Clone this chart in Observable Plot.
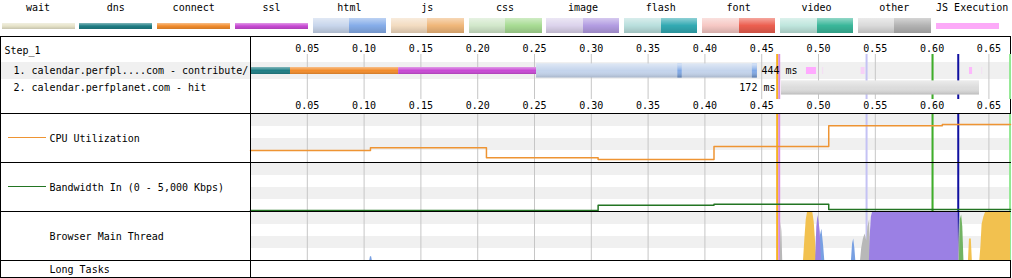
<!DOCTYPE html>
<html>
<head>
<meta charset="utf-8">
<script src="https://cdn.jsdelivr.net/npm/d3@7"></script>
<script src="https://cdn.jsdelivr.net/npm/@observablehq/plot@0.6"></script>
<style>
html,body{margin:0;padding:0;background:#fff;}
body{width:1012px;height:278px;position:relative;overflow:hidden;font-family:"DejaVu Sans Mono",monospace;font-size:10px;color:#000;}
#legend{position:absolute;left:0;top:0;width:1012px;height:35px;}
.lg-item{position:absolute;top:0;height:35px;}
.lg-label{position:absolute;left:-10px;right:-10px;top:2px;line-height:11px;text-align:center;white-space:nowrap;}
.lg-sw{position:absolute;left:0;display:flex;}
.lg-sw div{flex:1 1 0;}
#chart{position:absolute;left:0;top:36px;width:1009px;border-left:1px solid #000;border-right:1px solid #000;border-bottom:1px solid #000;}
.panel{border-top:1px solid #000;position:relative;}
.panel svg{display:block;}
.sample{position:absolute;left:7px;width:38px;height:1px;}
</style>
</head>
<body>
<div id="legend"></div>
<div id="chart"></div>
<script>
// ---------------- data ----------------
const legendNames = ["wait","dns","connect","ssl","html","js","css","image","flash","font","video","other","JS Execution"];
const tickValues = [0.05,0.10,0.15,0.20,0.25,0.30,0.35,0.40,0.45,0.50,0.55,0.60,0.65];
const stepName = "Step_1";
const requestLabels = ["1. calendar.perfpl....com - contribute/", "2. calendar.perfplanet.com - hit"];
const requestTimes = ["444 ms", "172 ms"];
// waterfall segments (seconds)
const segRow   = [1, 1, 1, 1, 1, 1, 2];
const segType  = ["dns", "connect", "ssl", "html-ttfb", "html", "html", "other-ttfb"];
const segStart = [0, 0.0352, 0.1304, 0.2518, 0.3762, 0.4418, 0.4674];
const segEnd   = [0.0352, 0.1304, 0.2518, 0.4462, 0.3800, 0.4462, 0.6417];
// JS execution marks on request 1
const jsStart = [0.4894, 0.5035, 0.5375, 0.6329, 0.6435];
const jsEnd   = [0.4982, 0.5045, 0.5410, 0.6356, 0.6445];
const jsShare = [1, 0.25, 0.45, 0.8, 0.2];
// page event lines
const eventNames = ["domInteractive", "domContentLoaded", "onLoad", "startRender", "docComplete", "fullyLoaded"];
const eventTimes = [0.4636, 0.4654, 0.5423, 0.6004, 0.6230, 0.6686];
// CPU / bandwidth samples
const sampleTimes = [0, 0.1056, 0.2077, 0.3060, 0.4080, 0.5090, 0.6090];
const cpuPct      = [25, 30.6, 9.8, 6.3, 33.3, 76.5, 79];
const bwKbps      = [100, 100, 100, 650, 760, 210, 210];
// browser main thread activity [time, percent]
const mtOther = [[0.4663,0],[0.4670,80],[0.4678,60],[0.4685,0],
  [0.5370,0],[0.5380,25],[0.5395,45],[0.5410,55],[0.5425,40],[0.5435,70],[0.5450,85],[0.5460,0],
  [0.6232,0],[0.6238,95],[0.6244,0]];
const mtLoading = [[0.1050,0],[0.1056,8],[0.1066,8],[0.1072,0],
  [0.5005,0],[0.5015,50],[0.5030,65],[0.5045,30],[0.5055,0],
  [0.5290,0],[0.5300,35],[0.5310,45],[0.5320,25],[0.5328,0]];
const mtScripting = [[0.4868,0],[0.4880,45],[0.4892,85],[0.4903,100],[0.4950,100],[0.4962,80],[0.4974,40],[0.4985,0],
  [0.6320,0],[0.6329,45],[0.6345,45],[0.6354,0],
  [0.6420,0],[0.6430,30],[0.6440,75],[0.6455,90],[0.6470,100],[0.6690,100]];
const mtLayout = [[0.4975,0],[0.4985,70],[0.4995,94],[0.5005,80],[0.5015,60],[0.5025,0],
  [0.5448,0],[0.5456,55],[0.5465,90],[0.5475,100],[0.6228,100],[0.6235,0]];
const mtPaint = [[0.6240,0],[0.6248,85],[0.6260,95],[0.6270,70],[0.6280,0]];
const panelLabels = ["CPU Utilization", "Bandwidth In (0 - 5,000 Kbps)", "Browser Main Thread", "Long Tasks"];

// ---------------- styles ----------------
const typeColors = {
  wait:["#e6e3c9"], dns:["#1f7d84"], connect:["#f28c2c"], ssl:["#c84ad4"],
  html:["#c8d6ec","#86ade9"], js:["#f3dcc1","#f0b77a"], css:["#d2e8cb","#a8dc94"],
  image:["#dcd3ec","#b39de2"], flash:["#b9dfdd","#33aab3"], font:["#f6c8c4","#ec5f50"],
  video:["#bfe6dd","#3ab79a"], other:["#dadada","#b3b3b3"], "JS Execution":["#fcaaf8"]
};
const segFill = {dns:"#1f7d84", connect:"#f28c2c", ssl:"#c84ad4", "html-ttfb":"#c4d4ec", html:"#7fa8e6", "other-ttfb":"#dcdcdc"};
const eventColor = {domInteractive:"#f7b21e", domContentLoaded:"#d98add", onLoad:"#c4c2f4", startRender:"#3fae2a", docComplete:"#1010a0", fullyLoaded:"#92e892"};
const mtColor = {other:"#b8b8b8", loading:"#78a0e2", scripting:"#f2c14f", layout:"#9b80e4", paint:"#72b363"};
const shadeCSS = "linear-gradient(rgba(255,255,255,.45), rgba(255,255,255,0) 50%, rgba(0,0,0,.14))";

// ---------------- legend ----------------
const legend = document.getElementById("legend");
legendNames.forEach((name, i) => {
  const item = document.createElement("div");
  item.className = "lg-item";
  item.style.left = (1.5 + i * 77.85) + "px";
  item.style.width = "73px";
  const lab = document.createElement("div");
  lab.className = "lg-label";
  lab.textContent = name;
  item.appendChild(lab);
  const cols = typeColors[name];
  const sw = document.createElement("div");
  sw.className = "lg-sw";
  if (cols.length === 1) {
    sw.style.top = "23px"; sw.style.height = "6px";
    sw.style.width = (name === "JS Execution" ? 63 : 73) + "px";
  } else {
    sw.style.top = "18px"; sw.style.height = "15px"; sw.style.width = "73px";
  }
  cols.forEach(c => {
    const p = document.createElement("div");
    p.style.backgroundColor = c;
    if (name !== "JS Execution") p.style.backgroundImage = shadeCSS;
    sw.appendChild(p);
  });
  item.appendChild(sw);
  legend.appendChild(item);
});

// ---------------- chart ----------------
const W = 1009, ML = 249, XD = [0, 0.669];
const style = {fontFamily: '"DejaVu Sans Mono", monospace', fontSize: "10px", background: "transparent", color: "#000", overflow: "visible"};
const fmt = d3.format(".2f");
const events = eventNames.map((name, i) => ({name, t: eventTimes[i], color: eventColor[name]}));
const chart = document.getElementById("chart");

function addPanel(svg, sampleColor, sampleTop) {
  const div = document.createElement("div");
  div.className = "panel";
  div.appendChild(svg);
  if (sampleColor) {
    const s = document.createElement("div");
    s.className = "sample";
    s.style.top = sampleTop + "px";
    s.style.background = sampleColor;
    div.appendChild(s);
  }
  chart.appendChild(div);
  return svg;
}

// Waterfall
const reqs = requestLabels.map((label, i) => ({row: String(i + 1), label}));
const segs = segRow.map((r, i) => ({row: String(r), type: segType[i], t0: segStart[i], t1: segEnd[i]}));
const thinSegs = segs.filter(s => ["dns", "connect", "ssl"].includes(s.type));
const fullSegs = segs.filter(s => !["dns", "connect", "ssl"].includes(s.type));
const jsMarks = jsStart.map((t, i) => ({row: "1", t0: t, t1: jsEnd[i], share: jsShare[i]}));
const durs = reqs.map((r, i) => {
  const rs = segs.filter(s => s.row === r.row);
  const t0 = d3.min(rs, s => s.t0), t1 = d3.max(rs, s => s.t1);
  const after = t1 + 0.04 < XD[1];
  return {row: r.row, text: requestTimes[i], t: after ? t1 : t0, after};
});

const wf = Plot.plot({
  width: W, height: 76, marginLeft: ML, marginRight: 0, marginTop: 25, marginBottom: 17,
  style,
  x: {domain: XD},
  y: {type: "band", domain: reqs.map(d => d.row), padding: 0, axis: null},
  color: {type: "identity"},
  marks: [
    Plot.barX(reqs.filter((d, i) => i % 2 === 0), {y: "row", x1: () => XD[0], x2: () => XD[1], fill: "#f0f0f0", insetLeft: -ML}),
    Plot.ruleX(tickValues, {stroke: "#c6c6c6", insetTop: -8, insetBottom: -3}),
    Plot.ruleX(events, {x: "t", stroke: "color", strokeWidth: 2, insetTop: -8, insetBottom: -3}),
    Plot.barX(thinSegs, {y: "row", x1: "t0", x2: "t1", fill: d => segFill[d.type], insetTop: 5, insetBottom: 5}),
    Plot.barX(thinSegs, {y: "row", x1: "t0", x2: "t1", fill: "url(#wpt-shade)", insetTop: 5, insetBottom: 5}),
    Plot.barX(fullSegs, {y: "row", x1: "t0", x2: "t1", fill: d => segFill[d.type], insetTop: 1.5, insetBottom: 1.5}),
    Plot.barX(fullSegs, {y: "row", x1: "t0", x2: "t1", fill: "url(#wpt-shade)", insetTop: 1.5, insetBottom: 1.5}),
    Plot.barX(jsMarks, {y: "row", x1: "t0", x2: "t1", fill: "#ffaaff", fillOpacity: "share", insetTop: 5, insetBottom: 5}),
    Plot.text(durs.filter(d => d.after), {x: "t", y: "row", text: "text", textAnchor: "start", dx: 4}),
    Plot.text(durs.filter(d => !d.after), {x: "t", y: "row", text: "text", textAnchor: "end", dx: -6}),
    Plot.text(reqs, {y: "row", text: "label", frameAnchor: "left", textAnchor: "start", dx: -237}),
    Plot.text([stepName], {text: d => d, frameAnchor: "top-left", textAnchor: "start", dx: -246, dy: -15.5}),
    Plot.axisX(tickValues, {anchor: "top", tickSize: 0, tickPadding: 10.5, tickFormat: fmt, label: null}),
    Plot.axisX(tickValues, {anchor: "bottom", tickSize: 0, tickPadding: 5.5, tickFormat: fmt, label: null}),
    Plot.ruleX([0], {stroke: "#000", insetTop: -25, insetBottom: -17})
  ]
});
const defs = document.createElementNS("http://www.w3.org/2000/svg", "defs");
defs.innerHTML = '<linearGradient id="wpt-shade" x1="0" y1="0" x2="0" y2="1"><stop offset="0" stop-color="#fff" stop-opacity="0.45"/><stop offset="0.5" stop-color="#fff" stop-opacity="0"/><stop offset="1" stop-color="#000" stop-opacity="0.15"/></linearGradient>';
wf.insertBefore(defs, wf.firstChild);
addPanel(wf);

function bandRows(domain) {
  const q = (domain[1] - domain[0]) / 4;
  return [{y1: domain[0] + 3 * q, y2: domain[1]}, {y1: domain[0] + q, y2: domain[0] + 2 * q}];
}
function panelPlot(label, yDomain, dataMarks, h = 48, withGrid = true) {
  return Plot.plot({
    width: W, height: h, marginLeft: ML, marginRight: 0, marginTop: 0, marginBottom: 0,
    style,
    x: {domain: XD, axis: null},
    y: {domain: yDomain, axis: null},
    color: {type: "identity"},
    marks: [
      withGrid ? Plot.rect(bandRows(yDomain), {y1: "y1", y2: "y2", fill: "#f0f0f0"}) : null,
      withGrid ? Plot.ruleX(tickValues, {stroke: "#c6c6c6"}) : null,
      withGrid ? Plot.ruleX(events, {x: "t", stroke: "color", strokeWidth: 2}) : null,
      ...dataMarks,
      Plot.ruleX([0], {stroke: "#000"}),
      Plot.text([label], {text: d => d, frameAnchor: "left", textAnchor: "start", dx: -201})
    ]
  });
}
const stepPts = vals => sampleTimes.map((t, i) => ({t, v: vals[i]})).concat([{t: XD[1], v: vals[vals.length - 1]}]);

addPanel(panelPlot(panelLabels[0], [0, 100], [
  Plot.line(stepPts(cpuPct), {x: "t", y: "v", curve: "step-after", stroke: "#ee9433", strokeWidth: 1.5})
]), "#ee9433", 23);

addPanel(panelPlot(panelLabels[1], [0, 5000], [
  Plot.line(stepPts(bwKbps), {x: "t", y: "v", curve: "step-after", stroke: "#237523", strokeWidth: 1.5})
]), "#237523", 23);

const mtArea = (pts, c) => Plot.areaY(pts, {x: d => d[0], y1: 0, y2: d => d[1], fill: c, curve: "linear"});
addPanel(panelPlot(panelLabels[2], [0, 100], [
  mtArea(mtOther, mtColor.other),
  mtArea(mtLoading, mtColor.loading),
  mtArea(mtScripting, mtColor.scripting),
  mtArea(mtLayout, mtColor.layout),
  mtArea(mtPaint, mtColor.paint)
]));

addPanel(panelPlot(panelLabels[3], [0, 1], [], 16, false));
</script>
</body>
</html>
